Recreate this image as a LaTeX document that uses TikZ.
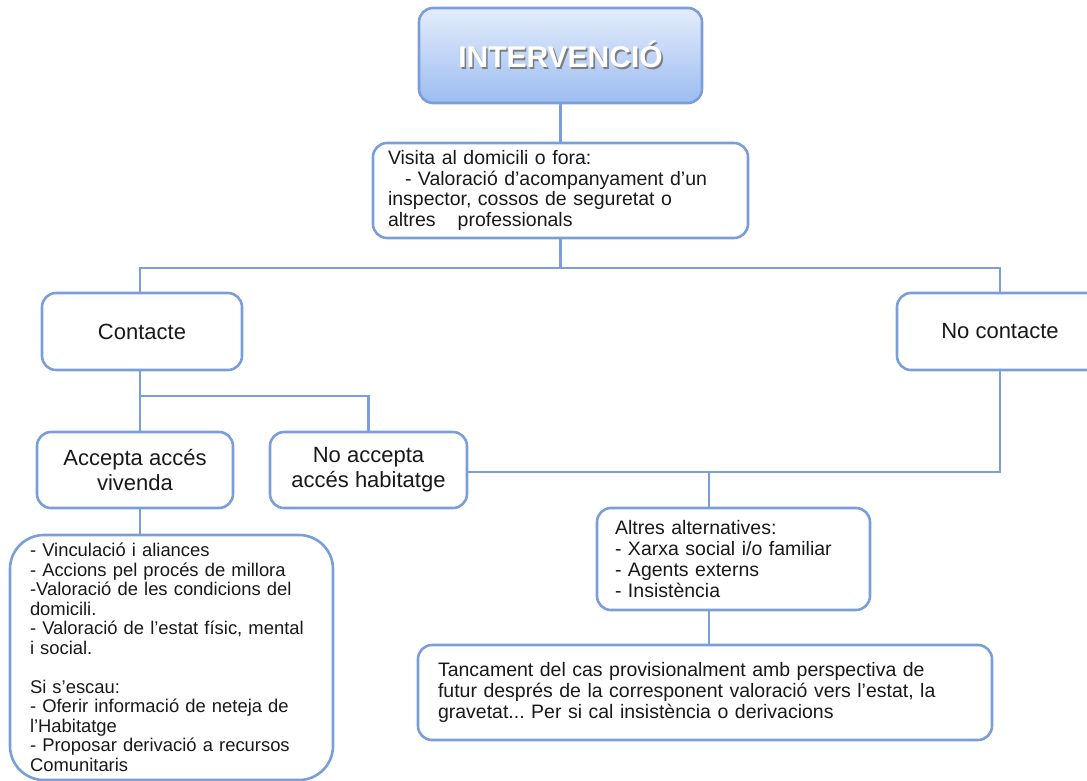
\documentclass[tikz,border=0pt]{standalone}
\usepackage{fontspec}
\setmainfont{Liberation Sans}
\frenchspacing
\definecolor{linec}{RGB}{122,158,218}
\definecolor{topc}{RGB}{228,237,252}
\definecolor{botc}{RGB}{156,188,240}
\definecolor{txtc}{RGB}{25,25,25}
\definecolor{shadc}{RGB}{125,125,125}
\newcommand{\shadowtitle}[1]{\makebox[0pt][l]{\hspace{1.6pt}\raisebox{-1.6pt}{\textcolor{shadc}{#1}}}\textcolor{white}{#1}}
\tikzset{
	boxnode/.style={draw=linec, line width=2.6pt, rounded corners=14pt, fill=white, text=txtc, inner sep=0pt},
	labelbox/.style={boxnode, align=center, font=\fontsize{22}{25}\selectfont},
	listbox/.style={boxnode, align=left, font=\fontsize{19.5}{20.7}\selectfont},
	link/.style={draw=linec, line width=2.6pt},
}
\begin{document}
\begin{tikzpicture}[x=1pt, y=-1pt]
			\useasboundingbox (0,0) rectangle (1087,780);
			
			\node[boxnode, minimum width=283pt, minimum height=95pt, top color=topc, bottom color=botc, font=\fontsize{30}{30}\selectfont\bfseries] (intervencio) at (560.5,55.5) {\raisebox{-6pt}{\shadowtitle{INTERVENCIÓ}}};
			\node[listbox, text width=345pt, inner xsep=15pt, minimum height=95pt] (visita) at (560.5,190.5) {Visita al domicili o fora:\\
				\hspace*{17pt}- Valoració d’acompanyament d’un\\
				inspector, cossos de seguretat o\\
				altres\hspace{22pt}professionals};
			
			\node[labelbox, minimum width=200pt, minimum height=77pt] (contacte) at (142,331.5) {Contacte};
			\node[labelbox, minimum width=206pt, minimum height=77pt] (nocontacte) at (1000,331.5) {No contacte};
			\node[labelbox, minimum width=196pt, minimum height=76pt] (accepta) at (135,470) {Accepta accés\\vivenda};
			\node[labelbox, minimum width=197pt, minimum height=76pt] (noaccepta) at (368.5,470) {No accepta\\accés habitatge};
			
			\node[listbox, rounded corners=34pt, text width=283pt, inner xsep=20pt, minimum height=245pt, font=\fontsize{18.4}{19.5}\selectfont] (vincula) at (171.5,657.5) {- Vinculació i aliances\\
				- Accions pel procés de millora\\
				-Valoració de les condicions del\\
				domicili.\\
				- Valoració de l'estat físic, mental\\
				i social.\\[19.5pt]
				Si s'escau:\\
				- Oferir informació de neteja de\\
				l'Habitatge\\
				- Proposar derivació a recursos\\
				Comunitaris};
			\node[listbox, text width=237pt, inner xsep=18pt, minimum height=102pt] (altres) at (733.5,559) {Altres alternatives:\\
				- Xarxa social i/o familiar\\
				- Agents externs\\
				- Insistència};
			\node[listbox, text width=534pt, inner xsep=20pt, minimum height=95pt] (tancament) at (705,692.5) {Tancament del cas provisionalment amb perspectiva de\\
				futur després de la corresponent valoració vers l’estat, la\\
				gravetat... Per si cal insistència o derivacions};
			
			% connectors
			\coordinate (hubtop) at (560.5,268);
			\coordinate (hubleft) at (140,396);
			\coordinate (hubright) at (709,472);
			
			\draw[link] (intervencio.south) -- (visita.north);
			\draw[link] (visita.south) -- (hubtop);
			\draw[link] (contacte.north -| hubleft) |- (hubtop) -| (nocontacte.north);
			\foreach \a/\b in {contacte.south/accepta.north, accepta.south/vincula.north}
			{
				\draw[link] (\a -| hubleft) -- (\b -| hubleft);
			}
			\draw[link] (hubleft) -| (noaccepta.north);
			\draw[link] (noaccepta.east |- hubright) -| (nocontacte.south);
			\draw[link] (hubright) -- (altres.north -| hubright);
			\draw[link] (altres.south -| hubright) -- (tancament.north -| hubright);
		\end{tikzpicture}
\end{document}
